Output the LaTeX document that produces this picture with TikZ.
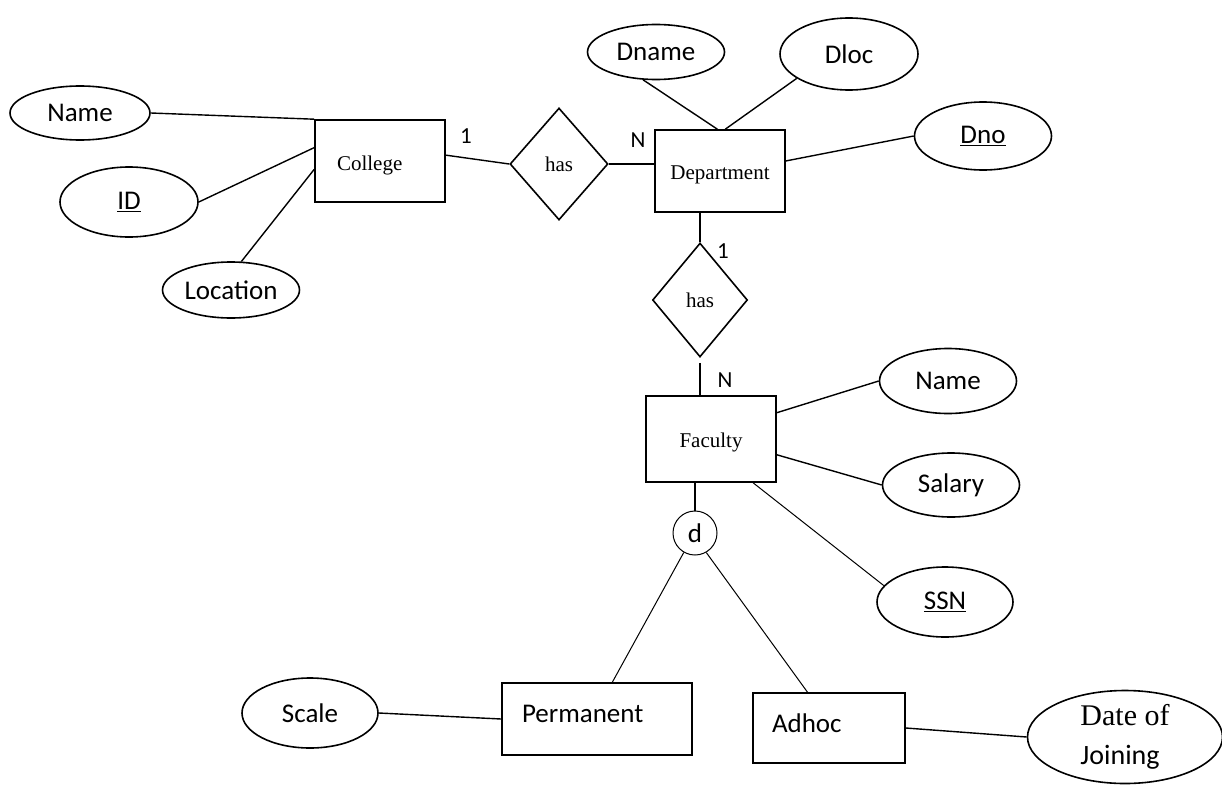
\documentclass[tikz,border=0pt]{standalone}
\usepackage{fontspec}
\setmainfont{Liberation Serif}
\newfontfamily\attrfont{Carlito}
\usetikzlibrary{shapes.geometric,calc}
\newcommand{\shiftup}[2]{\raisebox{#1}[\height][\depth]{#2}}
\begin{document}
\begin{tikzpicture}[x=1pt,y=-1pt,
  shp/.style={draw, line width=1.6pt, inner sep=0pt},
  attr/.style={shp, ellipse, font=\attrfont\fontsize{27}{31}\selectfont},
  ent/.style={shp, rectangle, font=\fontsize{21}{25}\selectfont},
  sent/.style={shp, rectangle, font=\attrfont\fontsize{27}{31}\selectfont},
  rel/.style={shp, diamond, font=\fontsize{21}{25}\selectfont},
  conn/.style={line width=1.4pt},
  thinconn/.style={line width=1pt},
  card/.style={font=\attrfont\fontsize{23}{26}\selectfont, inner sep=0pt}
]
\useasboundingbox (0,0) rectangle (1222,784);

% College side
\node[attr, minimum width=140pt, minimum height=54pt] (cname) at (80,113) {Name};
\node[attr, minimum width=138pt, minimum height=70pt] (cid) at (129,202) {\underline{ID}};
\node[attr, minimum width=137pt, minimum height=56pt] (cloc) at (231,290) {Location};
\node[ent, minimum width=130pt, minimum height=82pt, text width=86pt, inner xsep=22pt, align=left] (college) at (380,161) {\shiftup{-4pt}{College}};

% has 1
\node[rel, minimum width=98pt, minimum height=112pt] (has1) at (559,164) {has};

% Department
\node[ent, minimum width=130pt, minimum height=82pt] (dept) at (720,171) {\shiftup{-4pt}{Department}};
\node[attr, minimum width=137pt, minimum height=55pt] (dname) at (656,52) {Dname};
\node[attr, minimum width=138pt, minimum height=72pt] (dloc) at (849,54) {Dloc};
\node[attr, minimum width=137pt, minimum height=68pt] (dno) at (983,136) {\underline{Dno}};

% has 2
\node[rel, minimum width=95pt, minimum height=114pt] (has2) at (700,300) {has};

% Faculty
\node[ent, minimum width=130pt, minimum height=86pt] (faculty) at (711,439) {\shiftup{-3pt}{Faculty}};
\node[attr, minimum width=137pt, minimum height=65pt] (fname) at (948,381) {Name};
\node[attr, minimum width=137pt, minimum height=64pt] (fsal) at (951,485) {Salary};
\node[attr, minimum width=136pt, minimum height=70pt] (fssn) at (945,602) {\underline{SSN}};

% disjoint
\node[shp, circle, minimum size=44pt, line width=1pt, font=\attrfont\fontsize{27}{30}\selectfont] (d) at (695,533) {d};

% subclasses
\node[sent, minimum width=190pt, minimum height=72pt, text width=150pt, inner xsep=20pt, align=left] (perm) at (597,719) {\shiftup{5pt}{Permanent}};
\node[sent, minimum width=152pt, minimum height=70pt, text width=114pt, inner xsep=19pt, align=left] (adhoc) at (829,728) {\shiftup{5pt}{Adhoc}};
\node[attr, minimum width=136pt, minimum height=70pt] (scale) at (310,713) {Scale};
\node[attr, minimum width=195pt, minimum height=93pt, align=left, font=\attrfont\fontsize{28}{39}\selectfont] (doj) at (1125,737) {{\rmfamily\fontsize{30}{39}\selectfont Date of}\\Joining};

% cardinalities
\node[card] (c1) at (466,136) {1};
\node[card] (c2) at (638,140) {N};
\node[card] (c3) at (723,251) {1};
\node[card] (c4) at (725,380) {N};

% connectors
\draw[conn] (cname.east) -- (college.north west);
\draw[conn] (cid.east) -- ($(college.north west)!0.34!(college.south west)$);
\draw[conn] (cloc.70) -- ($(college.north west)!0.6!(college.south west)$);
\draw[conn] ($(college.north east)!0.43!(college.south east)$) -- (has1.west);
\draw[conn] (has1.east) -- (has1.east -| dept.west);
\draw[conn] (dname.-115) -- ($(dept.north west)!0.48!(dept.north east)$);
\draw[conn] (dloc.-155) -- ($(dept.north west)!0.54!(dept.north east)$);
\draw[conn] ($(dept.north east)!0.38!(dept.south east)$) -- (dno.west);
\draw[conn] (has2.north |- dept.south) -- (has2.north);
\draw[conn] ([yshift=-5pt]has2.south) -- (has2.south |- faculty.north);
\draw[conn] ($(faculty.north east)!0.2!(faculty.south east)$) -- (fname.west);
\draw[conn] ($(faculty.north east)!0.68!(faculty.south east)$) -- (fsal.west);
\draw[thinconn] ($(faculty.south west)!0.82!(faculty.south east)$) -- (fssn.165);
\draw[conn] (d.north |- faculty.south) -- (d.north);
\draw[thinconn] (d.-120) -- ($(perm.north west)!0.58!(perm.north east)$);
\draw[thinconn] (d.-60) -- ($(adhoc.north west)!0.36!(adhoc.north east)$);
\draw[conn] (scale.east) -- (perm.west);
\draw[conn] (adhoc.east) -- (doj.west);
\end{tikzpicture}
\end{document}
